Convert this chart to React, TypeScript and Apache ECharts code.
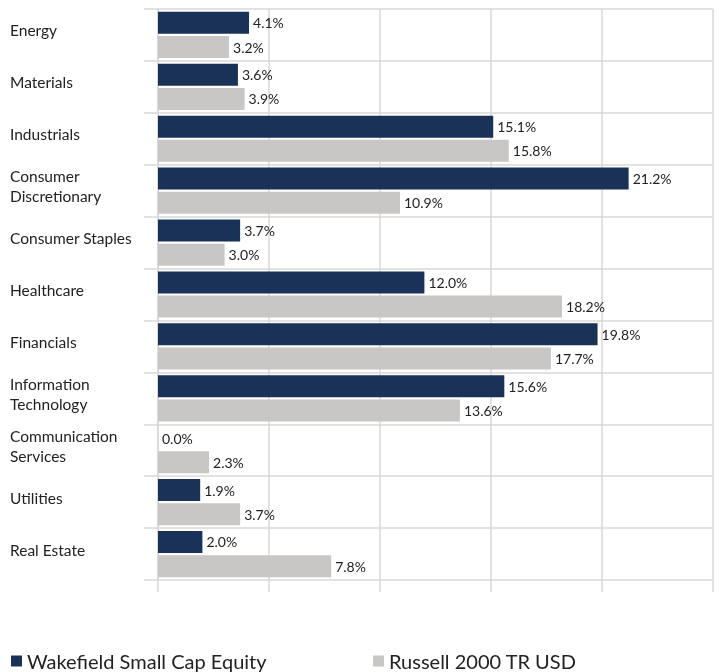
import React, { useEffect, useRef } from "react";
import * as echarts from "echarts";

const categories = [
  "Energy",
  "Materials",
  "Industrials",
  "Consumer Discretionary",
  "Consumer Staples",
  "Healthcare",
  "Financials",
  "Information Technology",
  "Communication Services",
  "Utilities",
  "Real Estate",
];
const wrapped: Record<string, string> = {
  "Consumer Discretionary": "Consumer\nDiscretionary",
  "Information Technology": "Information\nTechnology",
  "Communication Services": "Communication\nServices",
};
const wakefield = [4.1, 3.6, 15.1, 21.2, 3.7, 12.0, 19.8, 15.6, 0.0, 1.9, 2.0];
const russell = [3.2, 3.9, 15.8, 10.9, 3.0, 18.2, 17.7, 13.6, 2.3, 3.7, 7.8];
const seriesNames = ["Wakefield Small Cap Equity", "Russell 2000 TR USD"];

const FONT = "Lato";
const GRID = "#d9d9d9";

export default function App() {
  const ref = useRef<HTMLDivElement>(null);
  useEffect(() => {
    if (!ref.current) return;
    const chart = echarts.init(ref.current, null, { renderer: "svg" });
    const label = {
      show: true,
      position: "right",
      distance: 4,
      color: "#222",
      fontSize: 14,
      fontFamily: FONT,
      formatter: (p: any) => p.value.toFixed(1) + "%",
    };
    const legendText = { fontSize: 20, color: "#222", fontFamily: FONT };
    const catText = { fontSize: 15.5, lineHeight: 20, color: "#222", fontFamily: FONT };
    chart.setOption({
      animation: false,
      grid: { left: 158, right: 6, top: 9, bottom: 92, containLabel: false },
      legend: [
        {
          data: [seriesNames[0]],
          left: 11,
          top: 651,
          padding: 0,
          icon: "rect",
          itemWidth: 11,
          itemHeight: 11,
          textStyle: legendText,
        },
        {
          data: [seriesNames[1]],
          left: 373,
          top: 651,
          padding: 0,
          icon: "rect",
          itemWidth: 11,
          itemHeight: 11,
          textStyle: legendText,
        },
      ],
      xAxis: {
        type: "value",
        min: 0,
        max: 25,
        interval: 5,
        axisLabel: { show: false },
        axisLine: { show: false },
        axisTick: { show: true, length: 12, lineStyle: { color: GRID, width: 1.5 } },
        splitLine: { show: true, lineStyle: { color: GRID, width: 1.5 } },
      },
      yAxis: {
        type: "category",
        inverse: true,
        data: categories,
        axisLine: { show: true, lineStyle: { color: GRID, width: 1.5 } },
        axisTick: { show: true, length: 14, lineStyle: { color: GRID, width: 1.5 } },
        splitLine: { show: true, lineStyle: { color: GRID, width: 1.5 } },
        axisLabel: {
          align: "left",
          margin: 148,
          ...catText,
          formatter: (v: string) =>
            (wrapped[v] || v)
              .split("\n")
              .map((l) => `{a|${l}}`)
              .join("\n"),
          rich: {
            a: { ...catText, padding: [0, 0, 9, 0] },
          },
        },
      },
      series: [
        {
          name: seriesNames[0],
          type: "bar",
          data: wakefield,
          barWidth: 22,
          barGap: "10%",
          itemStyle: { color: "#1a3258" },
          label,
        },
        {
          name: seriesNames[1],
          type: "bar",
          data: russell,
          barWidth: 22,
          barGap: "10%",
          itemStyle: { color: "#c9c7c5" },
          label,
        },
      ],
    });
    return () => chart.dispose();
  }, []);
  return (
    <div
      ref={ref}
      style={{ width: 719, height: 672, position: "fixed", left: 0, top: 0 }}
    />
  );
}
